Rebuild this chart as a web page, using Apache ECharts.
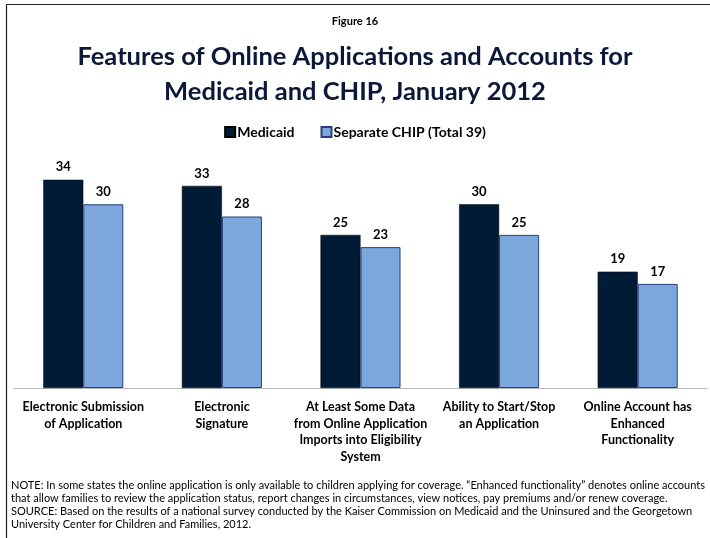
<!DOCTYPE html>
<html>
<head>
<meta charset="utf-8">
<script src="https://cdn.jsdelivr.net/npm/echarts@6/dist/echarts.min.js"></script>
<style>
  html, body { margin: 0; padding: 0; background: #fff; }
  #main { width: 710px; height: 538px; }
</style>
</head>
<body>
<div id="main"></div>
<script>
var categories = [
    'Electronic Submission\nof Application',
    'Electronic\nSignature',
    'At Least Some Data\nfrom Online Application\nImports into Eligibility\nSystem',
    'Ability to Start/Stop\nan Application',
    'Online Account has\nEnhanced\nFunctionality'
];
var medicaid = [34, 33, 25, 30, 19];
var chip = [30, 28, 23, 25, 17];
var seriesNames = ['Medicaid', 'Separate CHIP (Total 39)'];

var noteLines = [
    'NOTE: In some states the online application is only available to children applying for coverage. \u201cEnhanced functionality\u201d denotes online accounts',
    'that allow families to review the application status, report changes in circumstances, view notices, pay premiums and/or renew coverage.',
    'SOURCE: Based on the results of a national survey conducted by the Kaiser Commission on Medicaid and the Uninsured and the Georgetown',
    'University Center for Children and Families, 2012.'
];

var myChart = echarts.init(document.getElementById('main'));
var font = 'Lato, "Open Sans", sans-serif';

var option = {
    animation: false,
    textStyle: { fontFamily: font },
    title: [
        {
            text: 'Figure 16',
            left: 'center',
            top: 11,
            textStyle: { fontSize: 11, fontWeight: 'bold', color: '#000', fontFamily: font }
        },
        {
            text: 'Features of Online Applications and Accounts for\nMedicaid and CHIP, January 2012',
            left: 'center',
            top: 34,
            textStyle: { fontSize: 25.5, fontWeight: 'bold', color: '#0c1838', lineHeight: 35, fontFamily: font }
        }
    ],
    legend: {
        top: 120,
        left: 'center',
        itemWidth: 10,
        itemHeight: 10,
        itemGap: 26,
        icon: 'rect',
        textStyle: { fontSize: 14, fontWeight: 'bold', color: '#000', fontFamily: font, padding: [0, 0, 0, -3] },
        data: seriesNames
    },
    grid: { left: 14, right: 3, top: 143, bottom: 150 },
    xAxis: {
        type: 'category',
        data: categories,
        axisLine: { lineStyle: { color: '#b8b8b8' } },
        axisTick: { length: 5, lineStyle: { color: '#b8b8b8' } },
        axisLabel: {
            interval: 0,
            margin: 11,
            fontSize: 12.5,
            fontWeight: 'bold',
            lineHeight: 16.5,
            color: '#000',
            fontFamily: font
        }
    },
    yAxis: {
        type: 'value',
        min: 0,
        max: 40,
        show: false,
        splitLine: { show: false }
    },
    series: [
        {
            name: seriesNames[0],
            type: 'bar',
            data: medicaid,
            barWidth: 40,
            barGap: '0%',
            itemStyle: { color: '#001b36', borderColor: '#000', borderWidth: 0.5 },
            label: { show: true, position: 'top', distance: 6, fontSize: 13, fontWeight: 'bold', color: '#000', fontFamily: font }
        },
        {
            name: seriesNames[1],
            type: 'bar',
            data: chip,
            barWidth: 40,
            itemStyle: { color: '#7ba7dc', borderColor: '#2a3f7a', borderWidth: 1 },
            label: { show: true, position: 'top', distance: 6, fontSize: 13, fontWeight: 'bold', color: '#000', fontFamily: font }
        }
    ],
    graphic: [
        {
            type: 'line',
            shape: { x1: 6.5, y1: 4.5, x2: 6.5, y2: 538 },
            style: { stroke: '#222', lineWidth: 1.2 }
        },
        {
            type: 'line',
            shape: { x1: 6.5, y1: 4.5, x2: 710, y2: 4.5 },
            style: { stroke: '#222', lineWidth: 1.2 }
        },
        {
            type: 'text',
            left: 11,
            top: 479,
            style: {
                text: noteLines.join('\n'),
                fontSize: 11,
                lineHeight: 13,
                fill: '#000',
                fontFamily: font
            }
        }
    ]
};

myChart.setOption(option);
</script>
</body>
</html>
